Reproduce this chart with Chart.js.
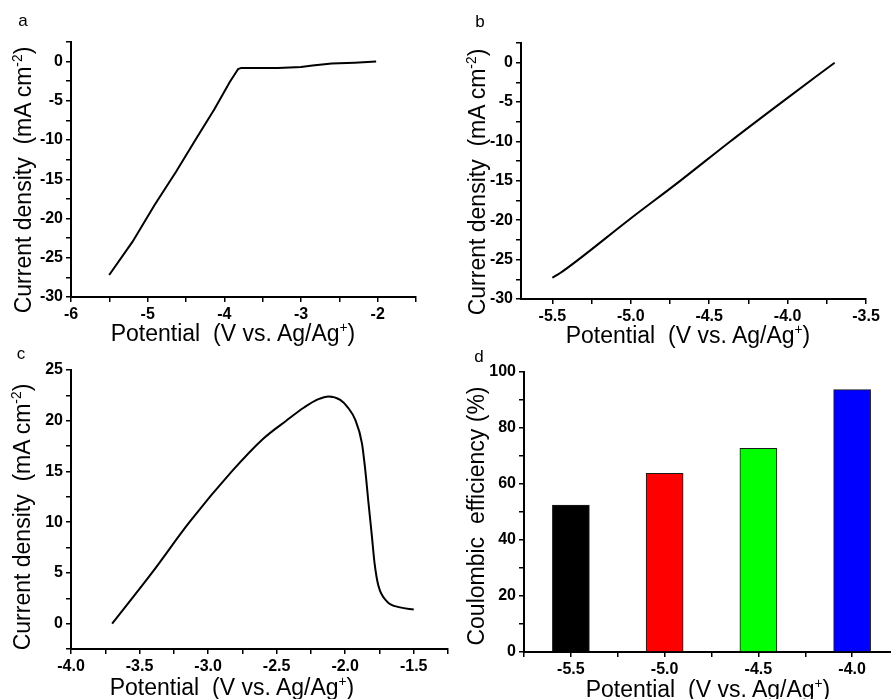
<!DOCTYPE html>
<html>
<head>
<meta charset="utf-8">
<script src="https://cdn.jsdelivr.net/npm/chart.js@4.4.1/dist/chart.umd.min.js"></script>
<style>
  html, body { margin: 0; padding: 0; background: #fff; }
  body { width: 891px; height: 699px; position: relative; overflow: hidden;
         font-family: "Liberation Sans", Arial, sans-serif; color: #000; }
  .panel { position: absolute; }
  .lbl { position: absolute; white-space: nowrap; line-height: 1; }
  .ttl { font-size: 23px; transform: translate(-50%, -50%); }
  .ttl.rot { transform: translate(-50%, -50%) rotate(-90deg); }
  .ttl sup { font-size: 0.6em; vertical-align: 0.62em; line-height: 0; }
  .letter { font-size: 17px; transform: translate(-50%, -50%); }
</style>
</head>
<body>
<div class="panel" style="left:0;top:0;width:445px;height:345px"><canvas id="chartA"></canvas></div>
<div class="panel" style="left:445px;top:0;width:446px;height:345px"><canvas id="chartB"></canvas></div>
<div class="panel" style="left:0;top:345px;width:460px;height:354px"><canvas id="chartC"></canvas></div>
<div class="panel" style="left:445px;top:345px;width:460px;height:354px"><canvas id="chartD"></canvas></div>

<div class="lbl letter" style="left:23px;top:20px">a</div>
<div class="lbl letter" style="left:480px;top:21px">b</div>
<div class="lbl letter" style="left:21px;top:353px">c</div>
<div class="lbl letter" style="left:479px;top:356px">d</div>

<div class="lbl ttl rot" style="left:23px;top:180px">Current density&nbsp; (mA cm<sup>-2</sup>)</div>
<div class="lbl ttl" style="left:233px;top:333px">Potential&nbsp; (V vs. Ag/Ag<sup>+</sup>)</div>
<div class="lbl ttl rot" style="left:477px;top:182px">Current density&nbsp; (mA cm<sup>-2</sup>)</div>
<div class="lbl ttl" style="left:688px;top:335px">Potential&nbsp; (V vs. Ag/Ag<sup>+</sup>)</div>
<div class="lbl ttl rot" style="left:22px;top:517px">Current density&nbsp; (mA cm<sup>-2</sup>)</div>
<div class="lbl ttl" style="left:232px;top:687px">Potential&nbsp; (V vs. Ag/Ag<sup>+</sup>)</div>
<div class="lbl ttl rot" style="left:476px;top:516px">Coulombic&nbsp; efficiency (%)</div>
<div class="lbl ttl" style="left:708px;top:689px">Potential&nbsp; (V vs. Ag/Ag<sup>+</sup>)</div>

<script>
// (a) LSV, first sweep
const aPotential = [-5.502, -5.197, -4.912, -4.628, -4.366, -4.126, -3.929, -3.82, -3.78, -3.6, -3.3, -3.0, -2.85, -2.6, -2.3, -2.02];
const aCurrent   = [-27.2, -22.95, -18.3, -14.0, -9.8, -6.0, -2.6, -0.95, -0.8, -0.8, -0.8, -0.7, -0.5, -0.25, -0.15, 0.0];

// (b) LSV, second sweep
const bPotential = [-5.5, -5.45, -5.334, -5.015, -4.685, -4.366, -4.036, -3.7];
const bCurrent   = [-27.3, -26.7, -25.0, -20.0, -15.0, -10.0, -5.0, 0.0];

// (c) anodic stripping
const cPotential = [-3.7, -3.41, -3.136, -2.827, -2.6, -2.43, -2.3, -2.2, -2.12, -2.036, -1.98, -1.927, -1.878, -1.854, -1.83, -1.805, -1.786, -1.757, -1.696, -1.6, -1.5];
const cCurrent   = [0.0, 5.0, 10.0, 15.0, 18.2, 20.0, 21.3, 22.1, 22.4, 22.05, 21.3, 20.1, 17.8, 15.2, 11.9, 8.6, 6.0, 3.7, 2.2, 1.6, 1.4];

// (d) coulombic efficiency per deposition potential
const dPotential  = [-5.5, -5.0, -4.5, -4.0];
const dEfficiency = [52.5, 63.8, 72.7, 93.7];
const dColors     = ['#000000', '#ff0000', '#00ff00', '#0000ff'];

Chart.defaults.font.family = '"Liberation Sans", Arial, sans-serif';
Chart.defaults.color = '#000';
Chart.defaults.animation = false;

const toXY = (xs, ys) => xs.map((x, i) => ({ x: x, y: ys[i] }));

// labels only on major steps, minor steps keep a bare tick
function majorLabel(major, digits) {
  return function (value) {
    const r = value / major;
    if (Math.abs(r - Math.round(r)) > 1e-6) return '';
    const v = Math.round(r) * major;
    return (Object.is(v, -0) ? 0 : v).toFixed(digits);
  };
}

function axis(min, max, step, major, digits, fitSize, horizontal) {
  return {
    type: 'linear',
    min: min,
    max: max,
    offset: false,
    border: { display: true, color: '#000', width: 2 },
    grid: { display: true, drawOnChartArea: false, drawTicks: true, tickLength: 5, color: '#000', lineWidth: 1.5, offset: false },
    ticks: {
      stepSize: step,
      includeBounds: false,
      autoSkip: false,
      maxRotation: 0,
      padding: 3,
      font: { size: 16, weight: 'bold' },
      callback: majorLabel(major, digits)
    },
    afterFit: function (scale) {
      if (horizontal) scale.height = fitSize; else scale.width = fitSize;
    }
  };
}

function baseOptions(pad, xAxis, yAxis) {
  return {
    responsive: true,
    maintainAspectRatio: false,
    layout: { padding: pad },
    plugins: { legend: { display: false }, tooltip: { enabled: false } },
    scales: { x: xAxis, y: yAxis }
  };
}

function curve(xs, ys, smooth) {
  return {
    data: toXY(xs, ys),
    borderColor: '#000',
    borderWidth: 2,
    pointRadius: 0,
    fill: false,
    cubicInterpolationMode: smooth ? 'monotone' : 'default',
    tension: smooth ? 0.4 : 0
  };
}

new Chart(document.getElementById('chartA'), {
  type: 'line',
  data: { datasets: [curve(aPotential, aCurrent, false)] },
  options: baseOptions({ top: 42, right: 29, left: 0, bottom: 0 },
    axis(-6, -1.5, 0.5, 1, 0, 48, true),
    axis(-30, 2.5, 2.5, 5, 0, 71, false))
});

new Chart(document.getElementById('chartB'), {
  type: 'line',
  data: { datasets: [curve(bPotential, bCurrent, true)] },
  options: baseOptions({ top: 43, right: 25, left: 0, bottom: 0 },
    axis(-5.7, -3.5, 0.25, 0.5, 1, 46, true),
    axis(-30, 2.5, 2.5, 5, 0, 76, false))
});

new Chart(document.getElementById('chartC'), {
  type: 'line',
  data: { datasets: [curve(cPotential, cCurrent, true)] },
  options: baseOptions({ top: 25, right: 12, left: 0, bottom: 0 },
    axis(-4, -1.25, 0.25, 0.5, 1, 50, true),
    axis(-2.5, 25, 2.5, 5, 0, 71, false))
});

new Chart(document.getElementById('chartD'), {
  type: 'bar',
  data: {
    datasets: [{
      data: toXY(dPotential, dEfficiency),
      backgroundColor: dColors,
      borderColor: '#1a1a1a',
      borderWidth: 1,
      barThickness: 37
    }]
  },
  options: baseOptions({ top: 27, right: 6, left: 0, bottom: 0 },
    axis(-5.75, -3.75, 0.25, 0.5, 1, 47, true),
    axis(0, 100, 10, 20, 0, 79, false))
});
</script>
</body>
</html>
